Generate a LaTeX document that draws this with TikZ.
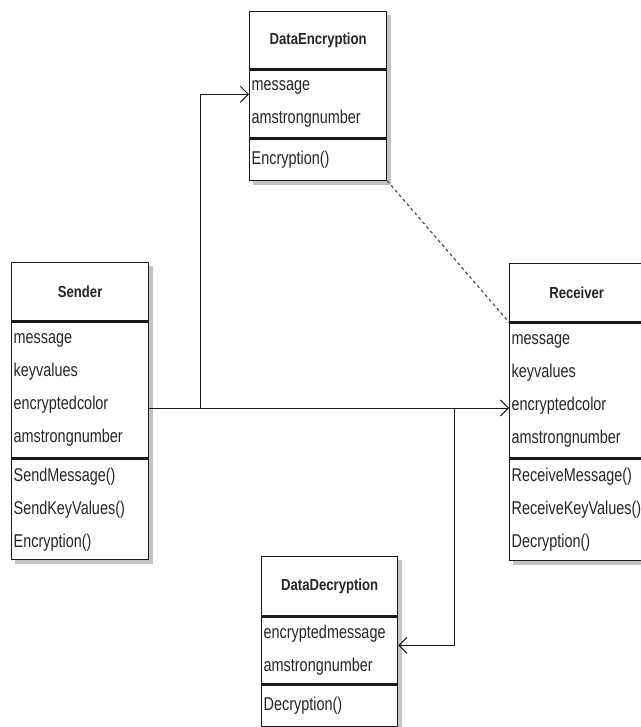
\documentclass[tikz,border=0pt]{standalone}
\usepackage{fontspec}
\usepackage{tikz}
\usetikzlibrary{arrows.meta, positioning, calc, backgrounds}
\newfontfamily\umlfont[FakeStretch=0.78]{Liberation Sans}
\newfontfamily\umlheadfont[FakeStretch=0.82]{Liberation Sans}
\definecolor{umlLine}{HTML}{1A1A1A}
\definecolor{umlTxt}{HTML}{262626}
\definecolor{umlShadow}{HTML}{C4C4C4}
\definecolor{umlDash}{HTML}{4A4A4A}
\tikzset{
  umlhead/.style={
    rectangle, anchor=north west,
    text width=#1, align=center,
    inner xsep=2pt, inner ysep=0pt,
    draw=umlLine, line width=1.3pt, fill=white,
    font=\umlheadfont\bfseries\fontsize{16}{19}\selectfont, text=umlTxt
  },
  umlrows/.style={
    rectangle, anchor=north west,
    text width=#1, align=left,
    inner xsep=2pt, inner ysep=0pt,
    draw=umlLine, line width=1.3pt, fill=white,
    font=\umlfont\fontsize{18.5}{33}\selectfont, text=umlTxt
  },
  assoc/.style={-{Straight Barb[length=8pt,width=16pt]}, umlLine, line width=1pt},
  depend/.style={umlDash, line width=1.2pt, dash pattern=on 3pt off 3pt},
  shadow/.style={fill=umlShadow},
}

\begin{document}
\begin{tikzpicture}[x=1pt, y=-1pt]
    \useasboundingbox (0,0) rectangle (640,727);

    % DataEncryption
    \node[umlhead=133pt, minimum height=57pt] (encHead) at (249,11) {DataEncryption};
    \node[umlrows=133pt, minimum height=68pt] (encAttrs) at (encHead.south west)
      {message\\amstrongnumber};
    \node[umlrows=133pt, minimum height=41pt] (encOps) at (encAttrs.south west)
      {Encryption()};

    % Sender
    \node[umlhead=133pt, minimum height=58pt] (sendHead) at (11,262) {Sender};
    \node[umlrows=133pt, minimum height=136pt] (sendAttrs) at (sendHead.south west)
      {message\\keyvalues\\encryptedcolor\\amstrongnumber};
    \node[umlrows=133pt, minimum height=100pt] (sendOps) at (sendAttrs.south west)
      {SendMessage()\\SendKeyValues()\\Encryption()};

    % Receiver
    \node[umlhead=130pt, minimum height=58pt] (recvHead) at (509,263) {Receiver};
    \node[umlrows=130pt, minimum height=135pt] (recvAttrs) at (recvHead.south west)
      {message\\keyvalues\\encryptedcolor\\amstrongnumber};
    \node[umlrows=130pt, minimum height=101pt] (recvOps) at (recvAttrs.south west)
      {ReceiveMessage()\\ReceiveKeyValues()\\Decryption()};

    % DataDecryption
    \node[umlhead=132pt, minimum height=59pt] (decHead) at (261,556) {DataDecryption};
    \node[umlrows=132pt, minimum height=67pt] (decAttrs) at (decHead.south west)
      {encryptedmessage\\amstrongnumber};
    \node[umlrows=132pt, minimum height=41pt] (decOps) at (decAttrs.south west)
      {Decryption()};

    \begin{scope}[on background layer]
      \foreach \cls in {enc, send, recv, dec}
        \fill[shadow] ($(\cls Head.north west)+(4,4)$) rectangle ($(\cls Ops.south east)+(4,4)$);
    \end{scope}

    \coordinate (busY) at (0,408);
    \coordinate (encFork) at (200,408);
    \coordinate (decFork) at (454,408);

    \draw[assoc] (sendAttrs.east |- busY) -- (recvAttrs.west |- busY);
    \draw[assoc] (encFork) |- ($(encAttrs.north west)+(0,25)$);
    \draw[assoc] (decFork) |- ($(decAttrs.north east)+(0,29)$);
    \draw[depend] (encOps.south east) -- (recvHead.south west);
\end{tikzpicture}
\end{document}
